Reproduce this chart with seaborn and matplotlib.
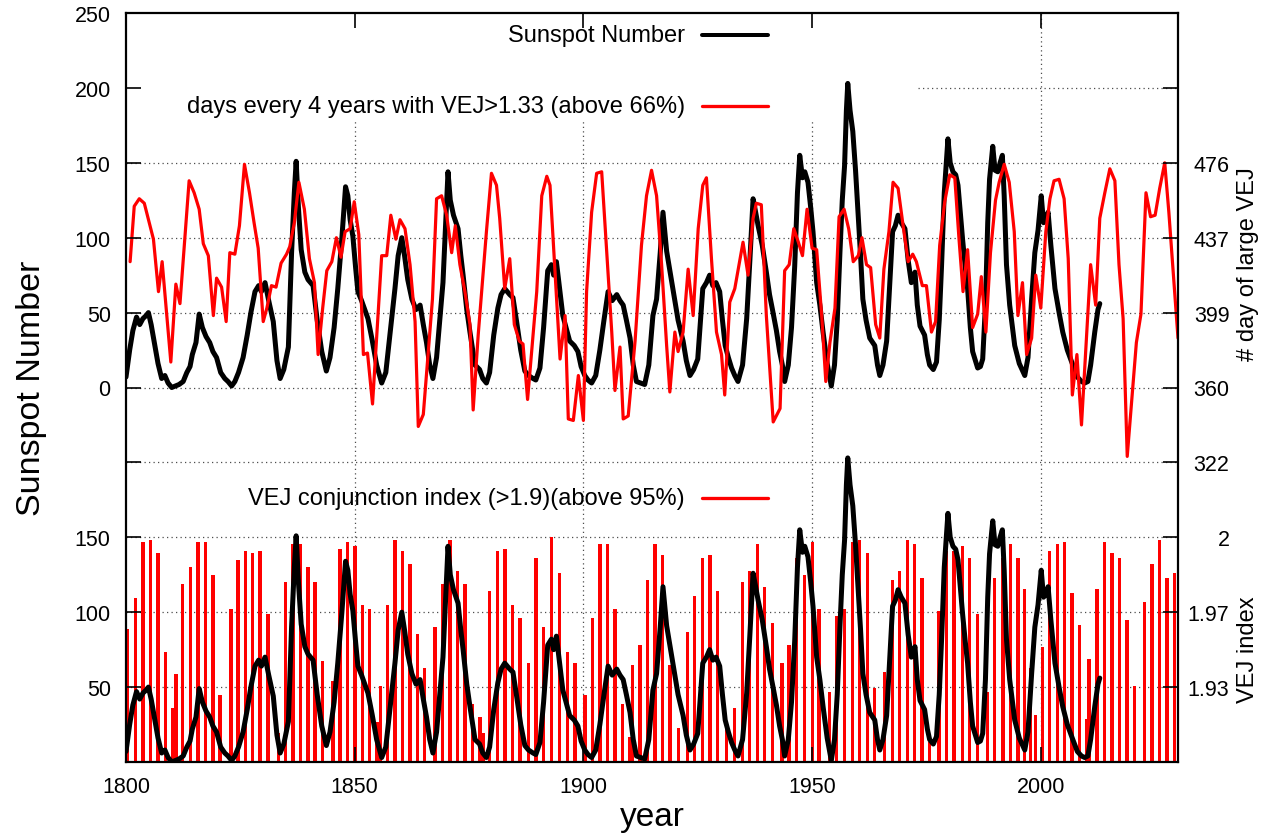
import numpy as np
import pandas as pd
import matplotlib
matplotlib.use("Agg")
import matplotlib.pyplot as plt
from matplotlib.patches import Rectangle
from matplotlib.lines import Line2D
import seaborn as sns

# ---------------- data ----------------
# Sunspot number (smoothed monthly)
sunspot_year = [
    1800.0, 1800.8, 1801.5, 1802.3, 1803.0, 1803.7, 1804.4, 1804.9, 1805.5, 1806.3,
    1807.0, 1807.8, 1808.5, 1809.2, 1810.0, 1810.8, 1811.6, 1812.5, 1813.3, 1814.0,
    1814.5, 1815.3, 1816.0, 1816.7, 1817.5, 1818.3, 1819.0, 1819.8, 1820.7, 1821.6,
    1822.3, 1823.1, 1823.8, 1824.6, 1825.6, 1826.5, 1827.3, 1828.2, 1829.0, 1829.6,
    1830.4, 1831.2, 1832.2, 1833.0, 1833.7, 1834.5, 1835.5, 1836.2, 1836.8, 1837.2,
    1837.7, 1838.3, 1839.1, 1839.8, 1840.9, 1841.8, 1842.8, 1843.8, 1844.6, 1845.5,
    1846.3, 1847.2, 1848.0, 1848.5, 1849.0, 1849.6, 1850.2, 1850.7, 1851.5, 1852.2,
    1852.9, 1853.8, 1854.8, 1855.9, 1856.8, 1857.7, 1858.8, 1859.5, 1860.3, 1860.9,
    1861.6, 1862.5, 1863.4, 1864.3, 1865.0, 1865.7, 1866.4, 1867.1, 1867.9, 1868.6,
    1869.3, 1869.9, 1870.4, 1870.9, 1871.6, 1872.6, 1873.2, 1873.7, 1874.5, 1875.2,
    1876.3, 1877.3, 1878.0, 1878.8, 1879.5, 1880.4, 1881.3, 1882.0, 1882.8, 1883.9,
    1884.6, 1885.4, 1886.3, 1887.2, 1888.0, 1889.0, 1889.6, 1890.5, 1891.3, 1892.2,
    1893.0, 1893.5, 1894.1, 1894.8, 1895.5, 1896.2, 1897.0, 1898.0, 1898.8, 1899.5,
    1900.3, 1901.0, 1901.8, 1902.7, 1903.6, 1904.5, 1905.4, 1906.3, 1907.3, 1908.0,
    1908.7, 1909.4, 1910.2, 1910.9, 1911.6, 1912.5, 1913.4, 1914.3, 1915.2, 1916.0,
    1916.8, 1917.4, 1918.2, 1918.9, 1919.6, 1920.7, 1921.8, 1922.5, 1923.3, 1924.1,
    1925.0, 1925.6, 1926.1, 1926.9, 1927.6, 1928.3, 1929.0, 1929.8, 1930.4, 1931.0,
    1931.7, 1932.4, 1933.1, 1933.8, 1934.8, 1935.7, 1936.4, 1937.1, 1937.6, 1938.2,
    1939.1, 1940.0, 1940.7, 1941.4, 1942.2, 1942.9, 1943.5, 1944.0, 1944.8, 1945.5,
    1946.2, 1946.8, 1947.3, 1947.9, 1948.4, 1949.1, 1949.7, 1950.2, 1951.0, 1951.7,
    1952.4, 1953.3, 1954.2, 1954.9, 1955.5, 1956.1, 1956.6, 1957.1, 1957.5, 1957.8,
    1958.3, 1958.9, 1959.5, 1960.0, 1960.6, 1961.1, 1961.8, 1962.6, 1963.7, 1964.3,
    1964.8, 1965.5, 1966.3, 1967.0, 1967.6, 1968.2, 1968.8, 1969.5, 1970.3, 1971.0,
    1971.7, 1972.5, 1973.0, 1973.6, 1974.6, 1975.2, 1975.7, 1976.5, 1977.2, 1977.8,
    1978.3, 1978.9, 1979.7, 1980.2, 1980.8, 1981.4, 1981.9, 1982.9, 1983.5, 1984.0,
    1984.6, 1985.1, 1986.2, 1986.8, 1987.3, 1987.9, 1988.4, 1988.8, 1989.5, 1990.0,
    1990.6, 1991.1, 1991.6, 1992.0, 1992.5, 1993.2, 1994.3, 1995.3, 1996.5, 1997.2,
    1998.0, 1998.7, 1999.4, 2000.1, 2000.6, 2001.1, 2001.6, 2002.2, 2003.1, 2004.0,
    2004.8, 2005.8, 2007.0, 2008.0, 2008.9, 2009.6, 2010.3, 2010.9, 2011.8, 2012.5,
    2012.9,
]
sunspot_value = [
    7, 25, 38, 47, 42, 46, 48, 50, 42, 28,
    16, 6, 8, 3, 0, 1, 2, 4, 10, 14,
    22, 30, 49, 40, 34, 30, 24, 20, 10, 6,
    4, 1, 4, 10, 20, 35, 50, 64, 68, 64,
    70, 58, 44, 18, 6, 12, 27, 90, 130, 151,
    120, 92, 77, 72, 68, 45, 24, 11, 20, 40,
    66, 100, 134, 128, 112, 101, 80, 64, 58, 52,
    46, 32, 15, 3, 10, 35, 66, 88, 100, 88,
    72, 59, 52, 55, 42, 30, 15, 6, 20, 45,
    70, 110, 144, 125, 115, 106, 88, 75, 52, 37,
    15, 12, 6, 3, 10, 35, 53, 62, 66, 62,
    60, 44, 25, 11, 8, 6, 5, 13, 40, 78,
    82, 75, 84, 66, 48, 40, 31, 28, 24, 14,
    8, 5, 3, 8, 25, 45, 64, 58, 62, 58,
    55, 45, 33, 15, 4, 3, 2, 15, 48, 59,
    90, 117, 91, 78, 65, 45, 31, 18, 8, 12,
    19, 45, 66, 70, 75, 68, 70, 64, 45, 28,
    20, 13, 8, 4, 15, 46, 85, 126, 118, 108,
    95, 77, 62, 51, 38, 24, 15, 4, 15, 40,
    81, 130, 155, 140, 144, 137, 120, 104, 70, 55,
    37, 16, 1, 15, 45, 91, 125, 148, 185, 203,
    185, 171, 145, 119, 88, 59, 45, 33, 28, 15,
    8, 15, 31, 70, 104, 108, 115, 110, 106, 85,
    70, 77, 55, 41, 35, 22, 15, 12, 17, 45,
    81, 130, 166, 150, 144, 142, 135, 99, 80, 66,
    40, 24, 13, 14, 19, 55, 110, 139, 161, 145,
    144, 150, 155, 128, 82, 55, 28, 16, 8, 20,
    59, 90, 105, 128, 110, 112, 117, 95, 66, 50,
    37, 25, 15, 7, 4, 3, 4, 15, 37, 52,
    56,
]

# days every 4 years with VEJ>1.33, in left-axis (scaled) units
days_year = [
    1800.9, 1801.8, 1802.9, 1804.0, 1806.0, 1807.1, 1807.9, 1809.8, 1810.9, 1811.8,
    1813.8, 1814.9, 1816.0, 1816.9, 1818.0, 1819.1, 1819.8, 1820.9, 1821.9, 1822.7,
    1823.8, 1824.8, 1825.9, 1827.0, 1828.0, 1828.9, 1830.0, 1830.8, 1831.8, 1832.8,
    1833.9, 1835.1, 1835.8, 1836.8, 1837.8, 1839.0, 1840.1, 1841.2, 1842.0, 1843.0,
    1843.9, 1845.0, 1846.0, 1847.0, 1847.9, 1849.0, 1849.9, 1850.9, 1851.9, 1852.8,
    1853.9, 1855.9, 1857.0, 1857.9, 1859.0, 1859.9, 1861.0, 1862.1, 1863.2, 1863.9,
    1865.0, 1867.0, 1867.9, 1869.0, 1870.1, 1871.2, 1872.0, 1873.0, 1874.1, 1875.2,
    1875.9, 1877.0, 1878.8, 1879.9, 1881.0, 1881.7, 1882.8, 1883.9, 1884.9, 1886.0,
    1886.8, 1887.8, 1889.8, 1890.9, 1892.0, 1892.7, 1894.9, 1896.0, 1896.7, 1897.8,
    1898.9, 1900.0, 1900.7, 1901.8, 1902.9, 1904.0, 1905.1, 1906.2, 1906.9, 1908.0,
    1908.7, 1909.8, 1911.3, 1912.7, 1913.8, 1914.9, 1916.0, 1917.1, 1918.2, 1918.9,
    1920.0, 1920.7, 1921.8, 1922.9, 1924.0, 1925.1, 1926.1, 1926.9, 1928.0, 1929.1,
    1930.2, 1930.9, 1932.0, 1933.1, 1934.9, 1936.0, 1937.1, 1937.8, 1938.9, 1940.0,
    1941.5, 1943.0, 1944.0, 1945.0, 1946.0, 1947.0, 1947.9, 1948.9, 1950.0, 1951.0,
    1952.1, 1953.0, 1953.9, 1955.0, 1955.9, 1957.0, 1958.0, 1959.0, 1960.1, 1960.9,
    1961.9, 1962.8, 1963.9, 1964.8, 1965.7, 1966.8, 1967.7, 1968.8, 1969.9, 1971.0,
    1972.0, 1972.8, 1974.1, 1975.0, 1976.1, 1977.0, 1977.9, 1979.0, 1980.1, 1981.2,
    1982.1, 1983.0, 1984.0, 1985.1, 1986.2, 1987.0, 1988.0, 1989.0, 1990.1, 1990.9,
    1992.0, 1993.1, 1994.2, 1995.0, 1996.0, 1996.9, 1998.0, 1998.9, 2000.0, 2001.1,
    2002.0, 2002.9, 2004.0, 2005.1, 2006.0, 2006.9, 2007.9, 2008.9, 2010.9, 2012.0,
    2012.9, 2014.0, 2015.1, 2016.2, 2017.1, 2018.0, 2018.9, 2020.9, 2021.9, 2023.0,
    2024.0, 2025.0, 2026.0, 2027.1, 2028.0, 2030.0,
]
days_scaled = [
    84, 121, 126, 123, 99, 64, 84, 17, 69, 56,
    138, 130, 119, 96, 88, 48, 73, 67, 44, 90,
    89, 108, 149, 130, 110, 93, 44, 53, 68, 67,
    83, 89, 94, 110, 137, 119, 86, 70, 22, 53,
    78, 84, 100, 87, 104, 106, 124, 102, 22, 23,
    -11, 88, 88, 115, 99, 112, 106, 82, 44, -26,
    -18, 59, 126, 128, 115, 90, 108, 82, 64, 42,
    -15, 35, 104, 143, 135, 113, 66, 86, 42, 31,
    29, -8, 64, 128, 141, 135, 19, 48, -21, -22,
    8, -22, 64, 117, 143, 144, 90, 37, -2, 27,
    -21, -19, 31, 95, 128, 145, 128, 82, 28, -3,
    37, 24, 37, 79, 48, 106, 135, 140, 86, 37,
    22, -5, 57, 66, 97, 75, 113, 123, 122, 48,
    -23, -14, 78, 82, 106, 97, 88, 119, 93, 92,
    48, 4, 30, 53, 114, 119, 106, 84, 88, 100,
    82, 80, 42, 33, 79, 104, 137, 133, 108, 84,
    89, 84, 68, 68, 37, 44, 95, 124, 142, 140,
    100, 64, 92, 40, 49, 74, 37, 90, 125, 137,
    149, 137, 104, 48, 70, 22, 33, 75, 53, 104,
    126, 138, 139, 126, 86, -5, 22, -25, 82, 55,
    113, 130, 146, 138, 82, 46, -46, 30, 49, 130,
    114, 115, 133, 150, 117, 33,
]

# VEJ conjunction index (>1.9)
vej_year = [
    1800.37, 1802.12, 1803.72, 1805.31, 1806.99, 1808.59, 1810.21, 1810.93, 1812.39, 1814.05,
    1815.74, 1817.33, 1819.02, 1820.55, 1822.95, 1824.48, 1826.08, 1827.69, 1829.29, 1831.04,
    1833.29, 1834.91, 1836.50, 1838.10, 1839.78, 1841.31, 1842.99, 1845.25, 1846.78, 1848.37,
    1850.05, 1851.74, 1853.27, 1854.86, 1855.67, 1857.11, 1858.80, 1860.48, 1862.08, 1863.76,
    1865.20, 1867.54, 1869.14, 1870.82, 1872.42, 1874.10, 1875.69, 1877.38, 1878.10, 1879.41,
    1881.16, 1882.84, 1884.52, 1886.12, 1888.02, 1889.62, 1891.26, 1893.05, 1894.71, 1896.46,
    1898.14, 1900.33, 1902.01, 1903.61, 1905.29, 1906.89, 1908.57, 1910.01, 1910.75, 1912.35,
    1914.03, 1915.63, 1917.31, 1918.91, 1920.87, 1922.78, 1924.31, 1926.05, 1927.65, 1929.33,
    1931.30, 1933.11, 1934.80, 1936.39, 1938.08, 1939.67, 1941.36, 1943.45, 1944.98, 1946.60,
    1948.35, 1950.10, 1951.54, 1953.73, 1955.34, 1957.01, 1958.84, 1960.44, 1962.12, 1963.72,
    1965.90, 1967.58, 1969.18, 1970.86, 1972.46, 1974.05, 1975.74, 1977.77, 1979.39, 1981.05,
    1982.89, 1984.48, 1986.16, 1988.35, 1989.95, 1991.76, 1993.44, 1995.04, 1996.50, 1997.81,
    1998.84, 2000.37, 2001.97, 2003.65, 2005.25, 2006.84, 2008.52, 2009.99, 2010.56, 2012.31,
    2013.99, 2015.58, 2017.27, 2018.86, 2020.55, 2022.73, 2024.33, 2026.01, 2027.61, 2029.29,
]
vej_index = [
    1.959, 1.973, 1.998, 1.999, 1.993, 1.949, 1.924, 1.939, 1.979, 1.987,
    1.998, 1.998, 1.983, 1.930, 1.968, 1.990, 1.994, 1.993, 1.994, 1.966,
    1.913, 1.980, 1.997, 1.997, 1.987, 1.980, 1.945, 1.936, 1.995, 1.998,
    1.996, 1.970, 1.968, 1.918, 1.934, 1.970, 1.999, 1.994, 1.988, 1.957,
    1.942, 1.960, 1.979, 1.999, 1.985, 1.979, 1.926, 1.920, 1.913, 1.976,
    1.994, 1.995, 1.970, 1.964, 1.944, 1.991, 1.960, 2.000, 1.984, 1.949,
    1.944, 1.930, 1.964, 1.997, 1.997, 1.968, 1.926, 1.911, 1.943, 1.952,
    1.981, 1.997, 1.992, 1.943, 1.915, 1.958, 1.974, 1.991, 1.992, 1.976,
    1.918, 1.924, 1.980, 1.985, 1.997, 1.978, 1.962, 1.944, 1.952, 1.991,
    1.983, 1.998, 1.968, 1.931, 1.965, 1.968, 1.998, 1.999, 1.993, 1.933,
    1.940, 1.981, 1.985, 1.999, 1.997, 1.982, 1.909, 1.967, 1.994, 1.994,
    1.996, 1.991, 1.966, 1.931, 1.982, 1.991, 1.997, 1.991, 1.977, 1.942,
    1.921, 1.951, 1.994, 1.997, 1.998, 1.975, 1.961, 1.919, 1.946, 1.977,
    1.998, 1.993, 1.991, 1.963, 1.934, 1.971, 1.988, 1.999, 1.982, 1.984,
]

x_ticks = [1800, 1850, 1900, 1950, 2000]
left_tick_pos = [250, 200, 150, 100, 50, 0, -50, -100, -150, -200]
left_tick_labels = ["250", "200", "150", "100", "50", "0", "", "150", "100", "50"]
right_tick_pos = [200, 150, 100, 50, 0, -50, -100, -150, -200]
right_tick_labels = ["", "476", "437", "399", "360", "322", "2", "1.97", "1.93"]
grid_y = [200, 150, 100, 50, 0, -50, -100, -150, -200]
grid_x = [1850, 1900, 1950, 2000]

assert len(sunspot_year) == len(sunspot_value)
assert len(days_year) == len(days_scaled)
assert len(vej_year) == len(vej_index)

LOWER_SHIFT = -250.0          # lower panel offset on the shared axis
def vej_to_axis(v):
    return LOWER_SHIFT + (np.asarray(v) - 1.9) * 1500.0

sun = pd.DataFrame({"year": sunspot_year, "ssn": sunspot_value})
sun["ssn_low"] = sun["ssn"] + LOWER_SHIFT
days = pd.DataFrame({"year": days_year, "val": days_scaled})
vej = pd.DataFrame({"year": vej_year, "idx": vej_index})

# ---------------- style ----------------
sns.set_theme(style="white")
plt.rcParams["font.family"] = ["Liberation Sans", "DejaVu Sans"]
plt.rcParams["text.color"] = "black"

W, H = 1271, 837
fig = plt.figure(figsize=(W / 100, H / 100), dpi=100)
L, R, T, B = 126, 1178, 14, 763
ax = fig.add_axes([L / W, 1 - B / H, (R - L) / W, (B - T) / H])
ax.set_xlim(1800, 2030)
ax.set_ylim(-250, 250)
ax.set_axisbelow(False)

grid_kw = dict(color="0.3", linewidth=0.9, linestyle=(0, (1, 2.6)), zorder=0.5)
for gy in grid_y:
    ax.axhline(gy, **grid_kw)
for gx in grid_x:
    ax.axvline(gx, **grid_kw)

# opaque key area (top-left)
ax.add_patch(Rectangle((1800, 179.3), 173.1, 80, facecolor="white",
                       edgecolor="none", zorder=1))

# upper panel
sns.lineplot(data=sun, x="year", y="ssn", ax=ax, color="black", linewidth=3.6,
             estimator=None, sort=False, legend=False, zorder=2.2)
sns.lineplot(data=days, x="year", y="val", ax=ax, color="#ff0000", linewidth=2.3,
             estimator=None, sort=False, legend=False, zorder=2.4)

# lower panel
ax.bar(vej["year"], vej_to_axis(vej["idx"]) - LOWER_SHIFT, bottom=LOWER_SHIFT,
       width=0.72, color="#ff0000", linewidth=0, zorder=2.0)
sns.lineplot(data=sun, x="year", y="ssn_low", ax=ax, color="black", linewidth=3.6,
             estimator=None, sort=False, legend=False, zorder=2.3)

ax.set_xlabel("")
ax.set_ylabel("")
ax.set_xticks(x_ticks)
ax.set_xticklabels([str(t) for t in x_ticks])
ax.set_yticks(left_tick_pos)
ax.set_yticklabels(left_tick_labels)
ax.tick_params(axis="both", direction="in", length=11, width=1.2, labelsize=15.5,
               color="black", labelcolor="black")
ax.tick_params(axis="x", top=True, bottom=True, pad=10)
ax.tick_params(axis="y", left=True, right=False, pad=11)
for s in ax.spines.values():
    s.set_linewidth(1.6)
    s.set_color("black")
    s.set_zorder(5)

ax2 = ax.twinx()
ax2.set_ylim(ax.get_ylim())
ax2.set_yticks(right_tick_pos)
ax2.set_yticklabels(right_tick_labels)
ax2.tick_params(axis="y", direction="in", length=11, width=1.2, labelsize=15.5,
                pad=37, right=True, left=False, color="black", labelcolor="black")
for lab in ax2.get_yticklabels():
    lab.set_horizontalalignment("right")
for s in ax2.spines.values():
    s.set_visible(False)
ax2.grid(False)

# axis titles
fig.text(32 / W, 1 - 388 / H, "Sunspot Number", rotation=90, ha="center",
         va="center", fontsize=24.5, color="black")
fig.text(652 / W, 1 - 818 / H, "year", ha="center", va="center", fontsize=24,
         color="black")
fig.text(1248 / W, 1 - 264 / H, "# day of large VEJ", rotation=90, ha="center",
         va="center", fontsize=17, color="black")
fig.text(1248 / W, 1 - 650 / H, "VEJ index", rotation=90, ha="center",
         va="center", fontsize=17, color="black")

# keys
keys = [("Sunspot Number", 36, "black", 4.0),
        ("days every 4 years with VEJ>1.33 (above 66%)", 107, "#ff0000", 3.3),
        ("VEJ conjunction index (>1.9)(above 95%)", 499, "#ff0000", 3.3)]
for label, ypx, col, lwpx in keys:
    fig.text(685 / W, 1 - ypx / H, label, ha="right", va="center", fontsize=17,
             color="black", zorder=10)
    fig.add_artist(Line2D([702 / W, 768 / W], [1 - ypx / H, 1 - ypx / H],
                          color=col, linewidth=lwpx * 0.72,
                          transform=fig.transFigure, zorder=10))

fig.savefig("out.png", dpi=100, facecolor="white")
